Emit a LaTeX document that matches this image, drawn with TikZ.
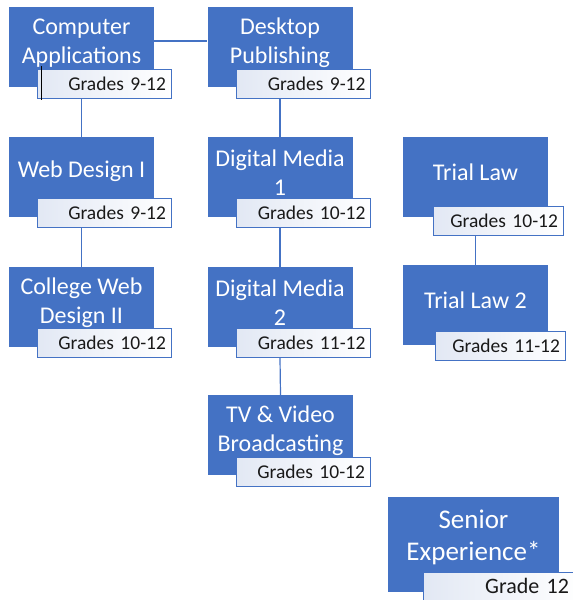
\documentclass[tikz,border=0pt]{standalone}
\usepackage{fontspec}
\setmainfont{Carlito}
\definecolor{boxblue}{HTML}{4472C4}
\definecolor{gradetint}{HTML}{E2E8F4}
\begin{document}
\begin{tikzpicture}[x=1pt,y=-1pt,
	course/.style={fill=boxblue, minimum width=145pt, minimum height=80pt, inner sep=0pt},
	title/.style={text=white, align=center, inner sep=0pt, font=\fontsize{24}{28.8}\selectfont},
	grade/.style={draw=boxblue, line width=0.8pt, left color=gradetint, right color=white, minimum height=29pt, inner sep=0pt, inner xsep=5pt, text width=#1, align=right, text=black!90, font=\fontsize{19.5}{22}\selectfont},
	grade/.default=124pt,
	link/.style={draw=boxblue, line width=1.2pt}]
	\useasboundingbox (0,0) rectangle (573,600);
	% course boxes
	\node (CA)  at ( 81.5,  47)	[course]	{};
	\node (DP)  at (280.0,  47)	[course]	{};
	\node (WD)  at ( 81.5, 177)	[course]	{};
	\node (CW)  at ( 81.5, 307)	[course]	{};
	\node (DM1) at (280.0, 177)	[course]	{};
	\node (DM2) at (280.0, 307)	[course]	{};
	\node (TV)  at (280.5, 435)	[course]	{};
	\node (TL1) at (475.5, 177)	[course]	{};
	\node (TL2) at (475.5, 305)	[course]	{};
	\node (SE)  at (473.5, 544.5)	[course, minimum width=171pt, minimum height=95pt]	{};
	% titles
	\node (CAt)  at ([yshift=4pt]CA.center)	[title]	{Computer\\Applications};
	\node (DPt)  at ([yshift=4pt]DP.center)	[title]	{Desktop\\Publishing};
	\node (WDt)  at ([yshift=6pt]WD.center)	[title]	{Web Design I};
	\node (CWt)  at ([yshift=4pt]CW.center)	[title]	{College Web\\Design II};
	\node (DM1t) at ([yshift=4pt]DM1.center)	[title]	{Digital Media\\1};
	\node (DM2t) at ([yshift=4pt]DM2.center)	[title]	{Digital Media\\2};
	\node (TVt)  at ([yshift=4pt]TV.center)	[title]	{TV \& Video\\Broadcasting};
	\node (TL1t) at ([yshift=5pt]TL1.center)	[title]	{Trial Law};
	\node (TL2t) at ([yshift=5pt]TL2.center)	[title]	{Trial Law 2};
	\node (SEt)  at ([yshift=7pt]SE.center)	[title, font=\fontsize{27}{32.4}\selectfont]	{Senior\\Experience*};
	% grade tags
	\node (CAg)  at (104.0,  84)	[grade]	{Grades 9-12};
	\node (DPg)  at (303.5,  84)	[grade]	{Grades 9-12};
	\node (WDg)  at (104.0, 213)	[grade]	{Grades 9-12};
	\node (CWg)  at (104.0, 343)	[grade]	{Grades 10-12};
	\node (DM1g) at (303.5, 213)	[grade]	{Grades 10-12};
	\node (DM2g) at (303.5, 343)	[grade]	{Grades 11-12};
	\node (TVg)  at (303.0, 472)	[grade]	{Grades 10-12};
	\node (TL1g) at (498.0, 221)	[grade=120pt]	{Grades 10-12};
	\node (TL2g) at (500.0, 346)	[grade=120pt]	{Grades 11-12};
	\node (SEg)  at (502.0, 586)	[grade=134pt, inner xsep=12pt, minimum height=28pt, font=\fontsize{22}{25}\selectfont]	{Grade 12};
	% links
	\draw [link] ([yshift=6pt]CA.east) -- ([yshift=6pt]DP.west);
	\draw [link] (CAg.south -| CA) -- (WD.north);
	\draw [link] (WDg.south -| WD) -- (CW.north);
	\draw [link] (DPg.south -| DP) -- (DM1.north);
	\draw [link] (DM1g.south -| DM1) -- (DM2.north);
	\draw [link] (DM2g.south -| DM2) -- (TV.north);
	\draw [link] (TL1g.south -| TL1) -- (TL2.north);
	% cursor mark
	\draw [black, line width=1pt] (41,66) -- (41,100);
\end{tikzpicture}
\end{document}
